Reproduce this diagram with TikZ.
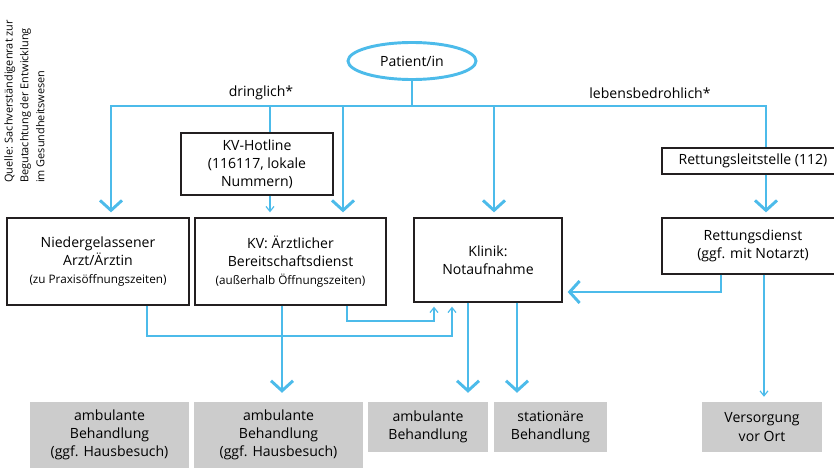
\documentclass[tikz,border=0pt]{standalone}
\usepackage{fontspec}
\setmainfont{Open Sans}
\usetikzlibrary{arrows.meta,positioning,shapes}
\definecolor{skyblue}{RGB}{76,187,234}
\definecolor{boxgray}{RGB}{204,204,204}
\definecolor{boxline}{RGB}{35,31,32}
\newcommand{\subline}[1]{{\fontsize{10}{12}\selectfont #1}}

\begin{document}
\begin{tikzpicture}[x=0.3mm,y=-0.3mm,font=\fontsize{12}{15.5}\selectfont,
    box/.style={rectangle,draw=boxline,line width=1.1pt,fill=white,align=center,inner sep=2pt},
    result/.style={rectangle,fill=boxgray,align=center,inner sep=2pt},
    mainline/.style={draw=skyblue,line width=2.5pt,>={Straight Barb[length=3mm,width=6.6mm]}},
    thinline/.style={draw=skyblue,line width=1pt,>={Straight Barb[length=1.5mm,width=2.4mm]}}]

    \clip (0,0) rectangle (834,467);

    % Source
    \node[rotate=90,anchor=north west,align=left,inner sep=0pt,font=\fontsize{9.3}{13.6}\selectfont] (quelle) at (4,183)
        {Quelle: Sachverständigenrat zur\\Begutachtung der Entwicklung\\im Gesundheitswesen};

    % Top
    \node[ellipse,draw=skyblue,line width=2.5pt,fill=white,minimum width=38.4mm,minimum height=11.1mm,inner sep=0pt] (patient) at (412,61) {Patient/in};
    \node (dringlich) at (261,93) {dringlich*};
    \node (lebens) at (650,93) {lebensbedrohlich*};

    \node[box,minimum width=45.6mm,minimum height=18.6mm] (hotline) at (257,164) {KV-Hotline\\(116117, lokale\\Nummern)};
    \node[box,minimum width=54.6mm,minimum height=7.8mm] (leitstelle) at (753,161) {Rettungsleitstelle (112)};

    % Middle row
    \node[box,minimum width=54.6mm,minimum height=26.1mm] (arzt) at (98,261.5) {Niedergelassener\\Arzt/Ärztin\\\subline{(zu Praxisöffnungszeiten)}};
    \node[box,minimum width=57.3mm,minimum height=26.1mm] (kvdienst) at (290.5,261.5) {KV: Ärztlicher\\Bereitschaftsdienst\\\subline{(außerhalb Öffnungszeiten)}};
    \node[box,minimum width=44.4mm,minimum height=25.2mm] (klinik) at (488,260) {Klinik:\\Notaufnahme};
    \node[box,minimum width=54.6mm,minimum height=16.8mm] (rettung) at (753,246) {Rettungsdienst\\(ggf. mit Notarzt)};

    % Results
    \node[result,minimum width=47.7mm,minimum height=19.8mm] (amb1) at (109.5,435) {ambulante\\Behandlung\\(ggf. Hausbesuch)};
    \node[result,minimum width=50.7mm,minimum height=19.8mm] (amb2) at (278.5,435) {ambulante\\Behandlung\\(ggf. Hausbesuch)};
    \node[result,minimum width=36mm,minimum height=15mm] (amb3) at (428,427) {ambulante\\Behandlung};
    \node[result,minimum width=33.9mm,minimum height=15mm] (stat) at (550.5,427) {stationäre\\Behandlung};
    \node[result,minimum width=36mm,minimum height=15mm] (vorort) at (762,427) {Versorgung\\vor Ort};

    % Branch points
    \coordinate (brArzt) at (111,106);
    \coordinate (brHot) at (270,106);
    \coordinate (brKV) at (343,106);
    \coordinate (brKlinik) at (494,106);
    \coordinate (brRett) at (766,106);

    % Upper flow
    \draw[mainline] (patient.south) -- (patient.south |- brArzt);
    \draw[mainline,<-,shorten <=1.5mm] (arzt.north -| brArzt) -- (brArzt) -- (brRett) -- (leitstelle.north -| brRett);
    \draw[mainline,->,shorten >=1.5mm] (brKV) -- (kvdienst.north -| brKV);
    \draw[mainline,->,shorten >=1.5mm] (brKlinik) -- (klinik.north -| brKlinik);
    \draw[mainline,->,shorten >=1.5mm] (leitstelle.south -| brRett) -- (rettung.north -| brRett);
    \draw[thinline] (brHot) -- (hotline.north -| brHot);
    \draw[thinline,->,shorten >=1.5mm] (hotline.south -| brHot) -- (kvdienst.north -| brHot);

    % Lower flow
    \coordinate (arztBend) at (147,336);
    \coordinate (arztIn) at (452,336);
    \coordinate (kvBend) at (347,321);
    \coordinate (kvIn) at (434,321);
    \coordinate (kvDown) at (282,350);
    \coordinate (klinikDownA) at (468,350);
    \coordinate (klinikDownB) at (517,350);
    \coordinate (rettBend) at (721,292);
    \coordinate (rettDown) at (764,350);

    \draw[thinline,->,shorten >=1.2mm] (arzt.south -| arztBend) -- (arztBend) -- (arztIn) -- (klinik.south -| arztIn);
    \draw[thinline,->,shorten >=1.2mm] (kvdienst.south -| kvBend) -- (kvBend) -- (kvIn) -- (klinik.south -| kvIn);
    \draw[mainline,->,shorten >=2.7mm] (kvdienst.south -| kvDown) -- (amb2.north -| kvDown);
    \draw[mainline,->,shorten >=2.7mm] (klinik.south -| klinikDownA) -- (amb3.north -| klinikDownA);
    \draw[mainline,->,shorten >=2.7mm] (klinik.south -| klinikDownB) -- (stat.north -| klinikDownB);
    \draw[mainline,->,shorten >=1.5mm] (rettung.south -| rettBend) -- (rettBend) -- (klinik.east |- rettBend);
    \draw[thinline,->,shorten >=1.5mm] (rettung.south -| rettDown) -- (vorort.north -| rettDown);
\end{tikzpicture}
\end{document}
